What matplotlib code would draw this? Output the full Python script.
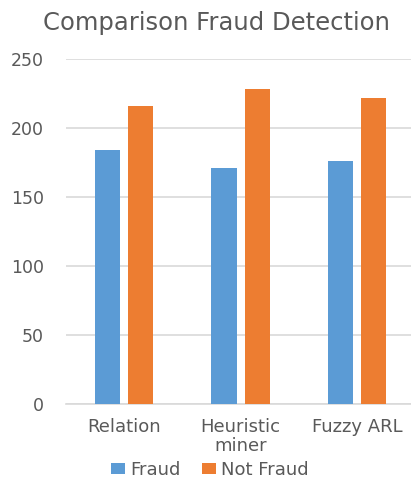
import numpy as np
from matplotlib import pyplot as plt

methods = ["Relation", "Heuristic\nminer", "Fuzzy ARL"]
fraud = [184, 171, 176]
not_fraud = [216, 228, 222]
y_ticks = [0, 50, 100, 150, 200, 250]

blue = "#5B9BD5"
orange = "#ED7D31"
text_col = "#595959"
grid_col = "#D9D9D9"

plt.rcParams["font.family"] = ["DejaVu Sans"]

fig = plt.figure(figsize=(4.11, 4.79), dpi=100)
ax = fig.add_axes([66 / 411, 75 / 479, 345 / 411, 345 / 479])

x = np.arange(len(methods))
w = 0.217
off = 0.143
b1 = ax.bar(x - off, fraud, w, color=blue, label="Fraud", zorder=3)
b2 = ax.bar(x + off, not_fraud, w, color=orange, label="Not Fraud", zorder=3)

ax.set_xlim(-0.5, 2.464)
ax.set_ylim(0, 250)
ax.set_yticks(y_ticks)
ax.set_xticks(x)
ax.set_xticklabels(methods, linespacing=1.1)
ax.grid(axis="y", color=grid_col, linewidth=1.2, zorder=0)
for s in ["top", "right", "left"]:
    ax.spines[s].set_visible(False)
ax.spines["bottom"].set_color(grid_col)
ax.spines["bottom"].set_linewidth(1.2)
ax.tick_params(axis="y", length=0, colors=text_col, labelsize=12.5, pad=16)
ax.tick_params(axis="x", length=0, colors=text_col, labelsize=13, pad=10)

fig.suptitle("Comparison Fraud Detection", x=0.527, y=0.978, color=text_col,
             fontsize=17.5)

fig.legend(handles=[b1, b2], loc="center", bbox_to_anchor=(0.511, 0.019), ncol=2,
           frameon=False, fontsize=13, labelcolor=text_col, handlelength=0.75,
           handleheight=0.5, handletextpad=0.3, columnspacing=1.2,
           borderpad=0.1)

fig.savefig("out.png", dpi=100)
